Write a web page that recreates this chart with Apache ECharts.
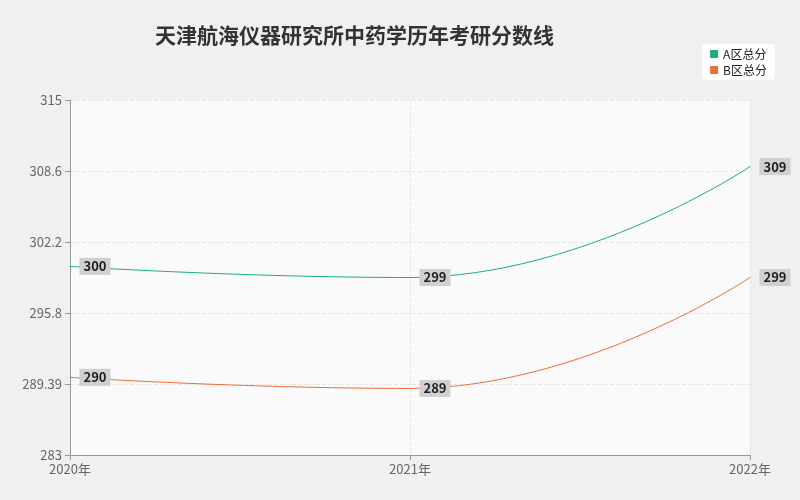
<!DOCTYPE html>
<html><head><meta charset="utf-8">
<script src="https://cdn.jsdelivr.net/npm/echarts@6/dist/echarts.min.js"></script>
<style>html,body{margin:0;padding:0;background:#f0f0f0}#c{width:800px;height:500px}</style>
</head><body><div id="c"></div>
<script>
var years = ['2020年', '2021年', '2022年'];
var seriesA = [300, 299, 309];
var seriesB = [290, 289, 299];
var yTicks = ['283', '289.39', '295.8', '302.2', '308.6', '315'];

var chart = echarts.init(document.getElementById('c'));
var font = '"Noto Sans CJK SC", "Noto Sans", sans-serif';
function lbl() {
  return {
    show: true, position: 'right', offset: [4, 0], color: '#222', fontSize: 13, fontWeight: 'bold',
    backgroundColor: '#d0d0d0', padding: [2, 4], fontFamily: font
  };
}
chart.setOption({
  backgroundColor: '#f0f0f0',
  textStyle: { fontFamily: font },
  title: {
    text: '天津航海仪器研究所中药学历年考研分数线', left: 150, top: 20,
    textStyle: { fontSize: 21, fontWeight: 'bold', color: '#333', fontFamily: font }
  },
  legend: {
    right: 25, top: 44, orient: 'vertical', itemWidth: 8, itemHeight: 8, itemGap: 4,
    backgroundColor: '#fff', borderRadius: 4, padding: [4, 8],
    textStyle: { fontSize: 12, color: '#222' },
    data: [{ name: 'A区总分', icon: 'rect' }, { name: 'B区总分', icon: 'rect' }]
  },
  grid: { left: 70, right: 50, top: 100, bottom: 45, show: true, backgroundColor: '#fafafa', borderWidth: 0 },
  xAxis: {
    type: 'category', data: years, boundaryGap: false,
    axisLine: { lineStyle: { color: '#999' } }, axisTick: { show: true, lineStyle: { color: '#999' } },
    axisLabel: { color: '#666', fontSize: 13 },
    splitLine: { show: true, lineStyle: { type: 'dashed', color: '#e6e6e6' } }
  },
  yAxis: {
    type: 'value', min: 283, max: 315, interval: 6.4,
    axisLine: { show: true, lineStyle: { color: '#999' } }, axisTick: { show: true },
    axisLabel: { color: '#666', fontSize: 13, formatter: function (v) {
      var i = Math.round((v - 283) / 6.4); return yTicks[i] || '';
    } },
    splitLine: { lineStyle: { type: 'dashed', color: '#e6e6e6' } }
  },
  series: [
    { name: 'A区总分', type: 'line', smooth: true, data: seriesA, symbol: 'circle', symbolSize: 1, showSymbol: true,
      itemStyle: { color: '#1aaf82' }, lineStyle: { width: 1 }, label: lbl() },
    { name: 'B区总分', type: 'line', smooth: true, data: seriesB, symbol: 'circle', symbolSize: 1, showSymbol: true,
      itemStyle: { color: '#e8703a' }, lineStyle: { width: 1 }, label: lbl() }
  ]
});
</script></body></html>
